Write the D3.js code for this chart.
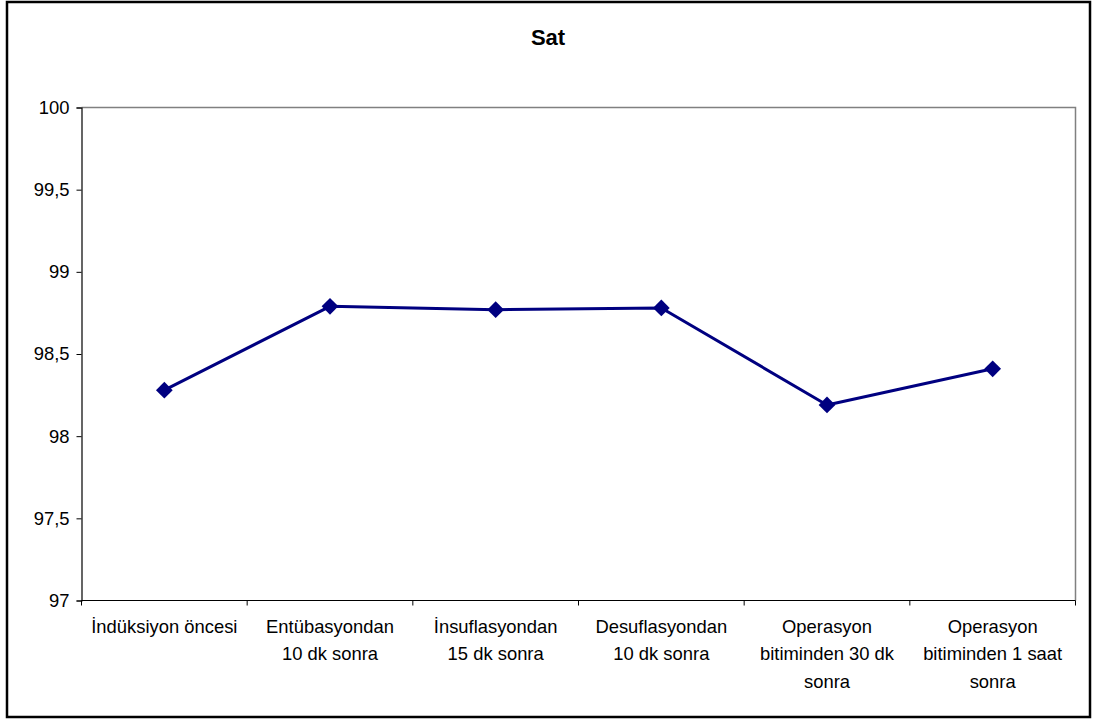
<!DOCTYPE html>
<html>
<head>
<meta charset="utf-8">
<script src="https://cdn.jsdelivr.net/npm/d3@7"></script>
<style>
  html, body { margin: 0; padding: 0; background: #fff; }
  svg { display: block; font-family: "Liberation Sans", Arial, sans-serif; }
</style>
</head>
<body>
<svg id="chart" width="1096" height="720"></svg>
<script>
// Mean oxygen saturation at each measurement time
const categories = [
  "İndüksiyon öncesi",
  "Entübasyondan\n10 dk sonra",
  "İnsuflasyondan\n15 dk sonra",
  "Desuflasyondan\n10 dk sonra",
  "Operasyon\nbitiminden 30 dk\nsonra",
  "Operasyon\nbitiminden 1 saat\nsonra"
];
const satValues = [98.28, 98.79, 98.77, 98.78, 98.19, 98.41];
const yTicks = [97, 97.5, 98, 98.5, 99, 99.5, 100];
const chartTitle = "Sat";

const svg = d3.select("#chart");
const plot = { left: 81.5, right: 1075.5, top: 107.5, bottom: 600.5 };
const fontSize = 18.4;

// Outer chart frame
svg.append("rect")
  .attr("x", 7).attr("y", 2).attr("width", 1083).attr("height", 715)
  .attr("fill", "#fff").attr("stroke", "#000").attr("stroke-width", 2.5);

const x = d3.scaleBand().domain(categories).range([plot.left, plot.right]).padding(0);
const y = d3.scaleLinear().domain([97, 100]).range([plot.bottom, plot.top]);

// Plot area border (top and right in grey)
svg.append("path")
  .attr("d", `M${plot.left},${plot.top}H${plot.right}V${plot.bottom}`)
  .attr("fill", "none").attr("stroke", "#808080").attr("stroke-width", 1.5);

// Y axis
const yAxis = svg.append("g")
  .attr("transform", `translate(${plot.left},0)`)
  .call(d3.axisLeft(y).tickValues(yTicks).tickSize(5).tickPadding(7)
    .tickFormat(d => String(d).replace(".", ",")));
yAxis.select(".domain").attr("stroke", "#000").attr("stroke-width", 1.2);
yAxis.selectAll(".tick line").attr("stroke", "#000");
yAxis.selectAll(".tick text").attr("font-size", fontSize).attr("fill", "#000")
  .attr("font-family", "'Liberation Sans', Arial, sans-serif");

// X axis with ticks at category boundaries
const xAxisG = svg.append("g").attr("transform", `translate(0,${plot.bottom})`);
xAxisG.append("line")
  .attr("x1", plot.left).attr("x2", plot.right)
  .attr("stroke", "#000").attr("stroke-width", 1.2);
const boundaries = categories.map(c => x(c)).concat([x(categories[categories.length - 1]) + x.bandwidth()]);
xAxisG.selectAll("line.bt").data(boundaries).join("line")
  .attr("class", "bt")
  .attr("x1", d => d).attr("x2", d => d).attr("y1", 0).attr("y2", 5)
  .attr("stroke", "#000");

const labels = xAxisG.selectAll("text.cat").data(categories).join("text")
  .attr("class", "cat")
  .attr("x", d => x(d) + x.bandwidth() / 2)
  .attr("y", 32)
  .attr("text-anchor", "middle")
  .attr("font-size", fontSize)
  .attr("fill", "#000");
labels.each(function(d) {
  const t = d3.select(this);
  d.split("\n").forEach((line, i) => {
    t.append("tspan")
      .attr("x", x(d) + x.bandwidth() / 2)
      .attr("dy", i === 0 ? 0 : 27.5)
      .text(line);
  });
});

// Series line
const cx = c => x(c) + x.bandwidth() / 2;
const line = d3.line().x((d, i) => cx(categories[i])).y(d => y(d));
svg.append("path")
  .datum(satValues)
  .attr("d", line)
  .attr("fill", "none")
  .attr("stroke", "#000080")
  .attr("stroke-width", 3)
  .attr("stroke-linejoin", "round");

// Diamond markers
const diamond = d3.symbol().type(d3.symbolSquare).size(140);
svg.selectAll("path.marker").data(satValues).join("path")
  .attr("class", "marker")
  .attr("d", diamond)
  .attr("transform", (d, i) => `translate(${cx(categories[i])},${y(d)}) rotate(45)`)
  .attr("fill", "#000080");

// Title
svg.append("text")
  .attr("x", 548).attr("y", 44.5)
  .attr("text-anchor", "middle")
  .attr("font-size", 22)
  .attr("font-weight", "bold")
  .text(chartTitle);
</script>
</body>
</html>
